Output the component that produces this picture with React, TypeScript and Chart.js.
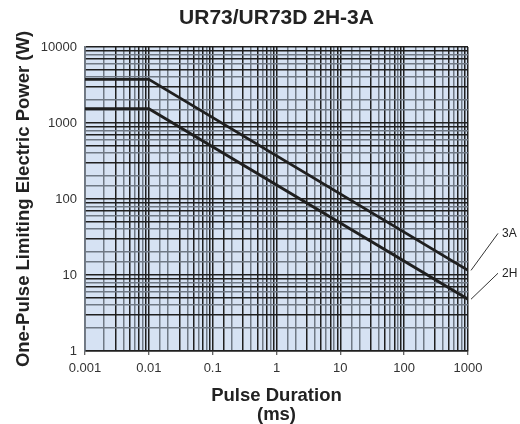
import React, { useEffect, useRef } from 'react';
import { Chart, registerables } from 'chart.js';

Chart.register(...registerables);

// ---- data ----
const durations = [0.001, 0.01, 1000]; // ms
const power3A = [3750, 3750, 11.5]; // W
const power2H = [1540, 1540, 4.8]; // W
const seriesNames = ['3A', '2H'];
const xTickLabels = ['0.001', '0.01', '0.1', '1', '10', '100', '1000'];
const yTickLabels = ['1', '10', '100', '1000', '10000'];
const chartTitle = 'UR73/UR73D 2H-3A';
const xTitle = ['Pulse Duration', '(ms)'];
const yTitle = 'One-Pulse Limiting Electric Power (W)';

const FONT = "'Liberation Sans', Arial, Helvetica, sans-serif";
const DARK = '#1f1f1f';
const GREY = '#6f7884';
const BG = '#d6e2f3';

function mantissa(v: number) {
  const e = Math.floor(Math.log10(v) + 1e-9);
  return Math.round(v / Math.pow(10, e));
}
function isMajor(v: number) {
  const l = Math.log10(v);
  return Math.abs(l - Math.round(l)) < 1e-6;
}
function gridColor(ctx: any) {
  const v = ctx.tick ? ctx.tick.value : 1;
  const m = mantissa(v);
  return m % 2 === 1 ? DARK : GREY;
}

const bgPlugin = {
  id: 'bgPlugin',
  beforeDraw(chart: any) {
    const { ctx, chartArea: a } = chart;
    ctx.save();
    ctx.fillStyle = BG;
    ctx.fillRect(a.left, a.top, a.right - a.left, a.bottom - a.top);
    ctx.restore();
  },
};

const leaderOffsets = [-37, -26];

const leaderPlugin = {
  id: 'leaderPlugin',
  afterDatasetsDraw(chart: any) {
    const { ctx } = chart;
    ctx.save();
    chart.data.datasets.forEach((ds: any, i: number) => {
      const meta = chart.getDatasetMeta(i);
      const pt = meta.data[meta.data.length - 1];
      if (!pt) return;
      const x = pt.x;
      const y = pt.y;
      const dy = leaderOffsets[i];
      ctx.strokeStyle = '#333';
      ctx.lineWidth = 1;
      ctx.beginPath();
      ctx.moveTo(x + 3, y);
      ctx.lineTo(x + 30, y + dy);
      ctx.stroke();
      ctx.fillStyle = '#222';
      ctx.font = `12px ${FONT}`;
      ctx.textAlign = 'left';
      ctx.textBaseline = 'middle';
      ctx.fillText(ds.label, x + 34, y + dy);
    });
    ctx.restore();
  },
};

export default function App() {
  const ref = useRef<HTMLCanvasElement | null>(null);

  useEffect(() => {
    if (!ref.current) return;
    const mk = (vals: number[]) => durations.map((d, i) => ({ x: d, y: vals[i] }));
    const chart = new Chart(ref.current, {
      type: 'line',
      data: {
        datasets: [
          {
            label: seriesNames[0],
            data: mk(power3A),
            borderColor: DARK,
            borderWidth: 2.8,
            pointRadius: 0,
            tension: 0,
          },
          {
            label: seriesNames[1],
            data: mk(power2H),
            borderColor: DARK,
            borderWidth: 2.8,
            pointRadius: 0,
            tension: 0,
          },
        ],
      },
      plugins: [bgPlugin, leaderPlugin],
      options: {
        responsive: false,
        animation: false,
        devicePixelRatio: 1,
        layout: { padding: { top: 0, right: 52, left: 0, bottom: 0 } },
        plugins: {
          legend: { display: false },
          tooltip: { enabled: false },
          title: {
            display: true,
            text: chartTitle,
            fullSize: false,
            color: '#222',
            font: { family: FONT, size: 21, weight: 'bold', lineHeight: 1.2 },
            padding: { top: 6, bottom: 15.8 },
          },
        },
        scales: {
          x: {
            type: 'logarithmic',
            min: 0.001,
            max: 1000,
            afterFit(scale: any) {
              scale.height = 73;
            },
            border: { display: true, color: DARK, width: 1.5 },
            grid: {
              color: gridColor,
              lineWidth: 1.5,
              drawTicks: true,
              tickLength: 4,
              tickColor: (ctx: any) => (ctx.tick && isMajor(ctx.tick.value) ? '#333' : 'rgba(0,0,0,0)'),
              tickWidth: 1,
            },
            ticks: {
              autoSkip: false,
              maxRotation: 0,
              padding: 6,
              color: '#333',
              font: { family: FONT, size: 13 },
              callback: (v: any) => {
                const val = Number(v);
                if (!isMajor(val)) return '';
                return xTickLabels[Math.round(Math.log10(val)) + 3] ?? '';
              },
            },
            title: {
              display: true,
              text: xTitle,
              color: '#222',
              font: { family: FONT, size: 18.5, weight: 'bold', lineHeight: 1.0 },
              padding: { top: 0, bottom: 0 },
            },
          },
          y: {
            type: 'logarithmic',
            min: 1,
            max: 10000,
            afterFit(scale: any) {
              scale.width = 85;
            },
            border: { display: true, color: GREY, width: 1.5 },
            grid: {
              color: gridColor,
              lineWidth: 1.5,
              drawTicks: false,
            },
            ticks: {
              autoSkip: false,
              padding: 8,
              color: '#333',
              font: { family: FONT, size: 13 },
              callback: (v: any) => {
                const val = Number(v);
                if (!isMajor(val)) return '';
                return yTickLabels[Math.round(Math.log10(val))] ?? '';
              },
            },
            title: {
              display: true,
              text: yTitle,
              color: '#222',
              font: { family: FONT, size: 18.5, weight: 'bold', lineHeight: 1.2 },
              padding: { top: 13, bottom: 0 },
            },
          },
        },
      },
    } as any);
    return () => chart.destroy();
  }, []);

  return (
    <div style={{ position: 'fixed', left: 0, top: 0, width: 520, height: 424 }}>
      <canvas ref={ref} width={520} height={424} style={{ width: 520, height: 424, display: 'block' }} />
    </div>
  );
}
